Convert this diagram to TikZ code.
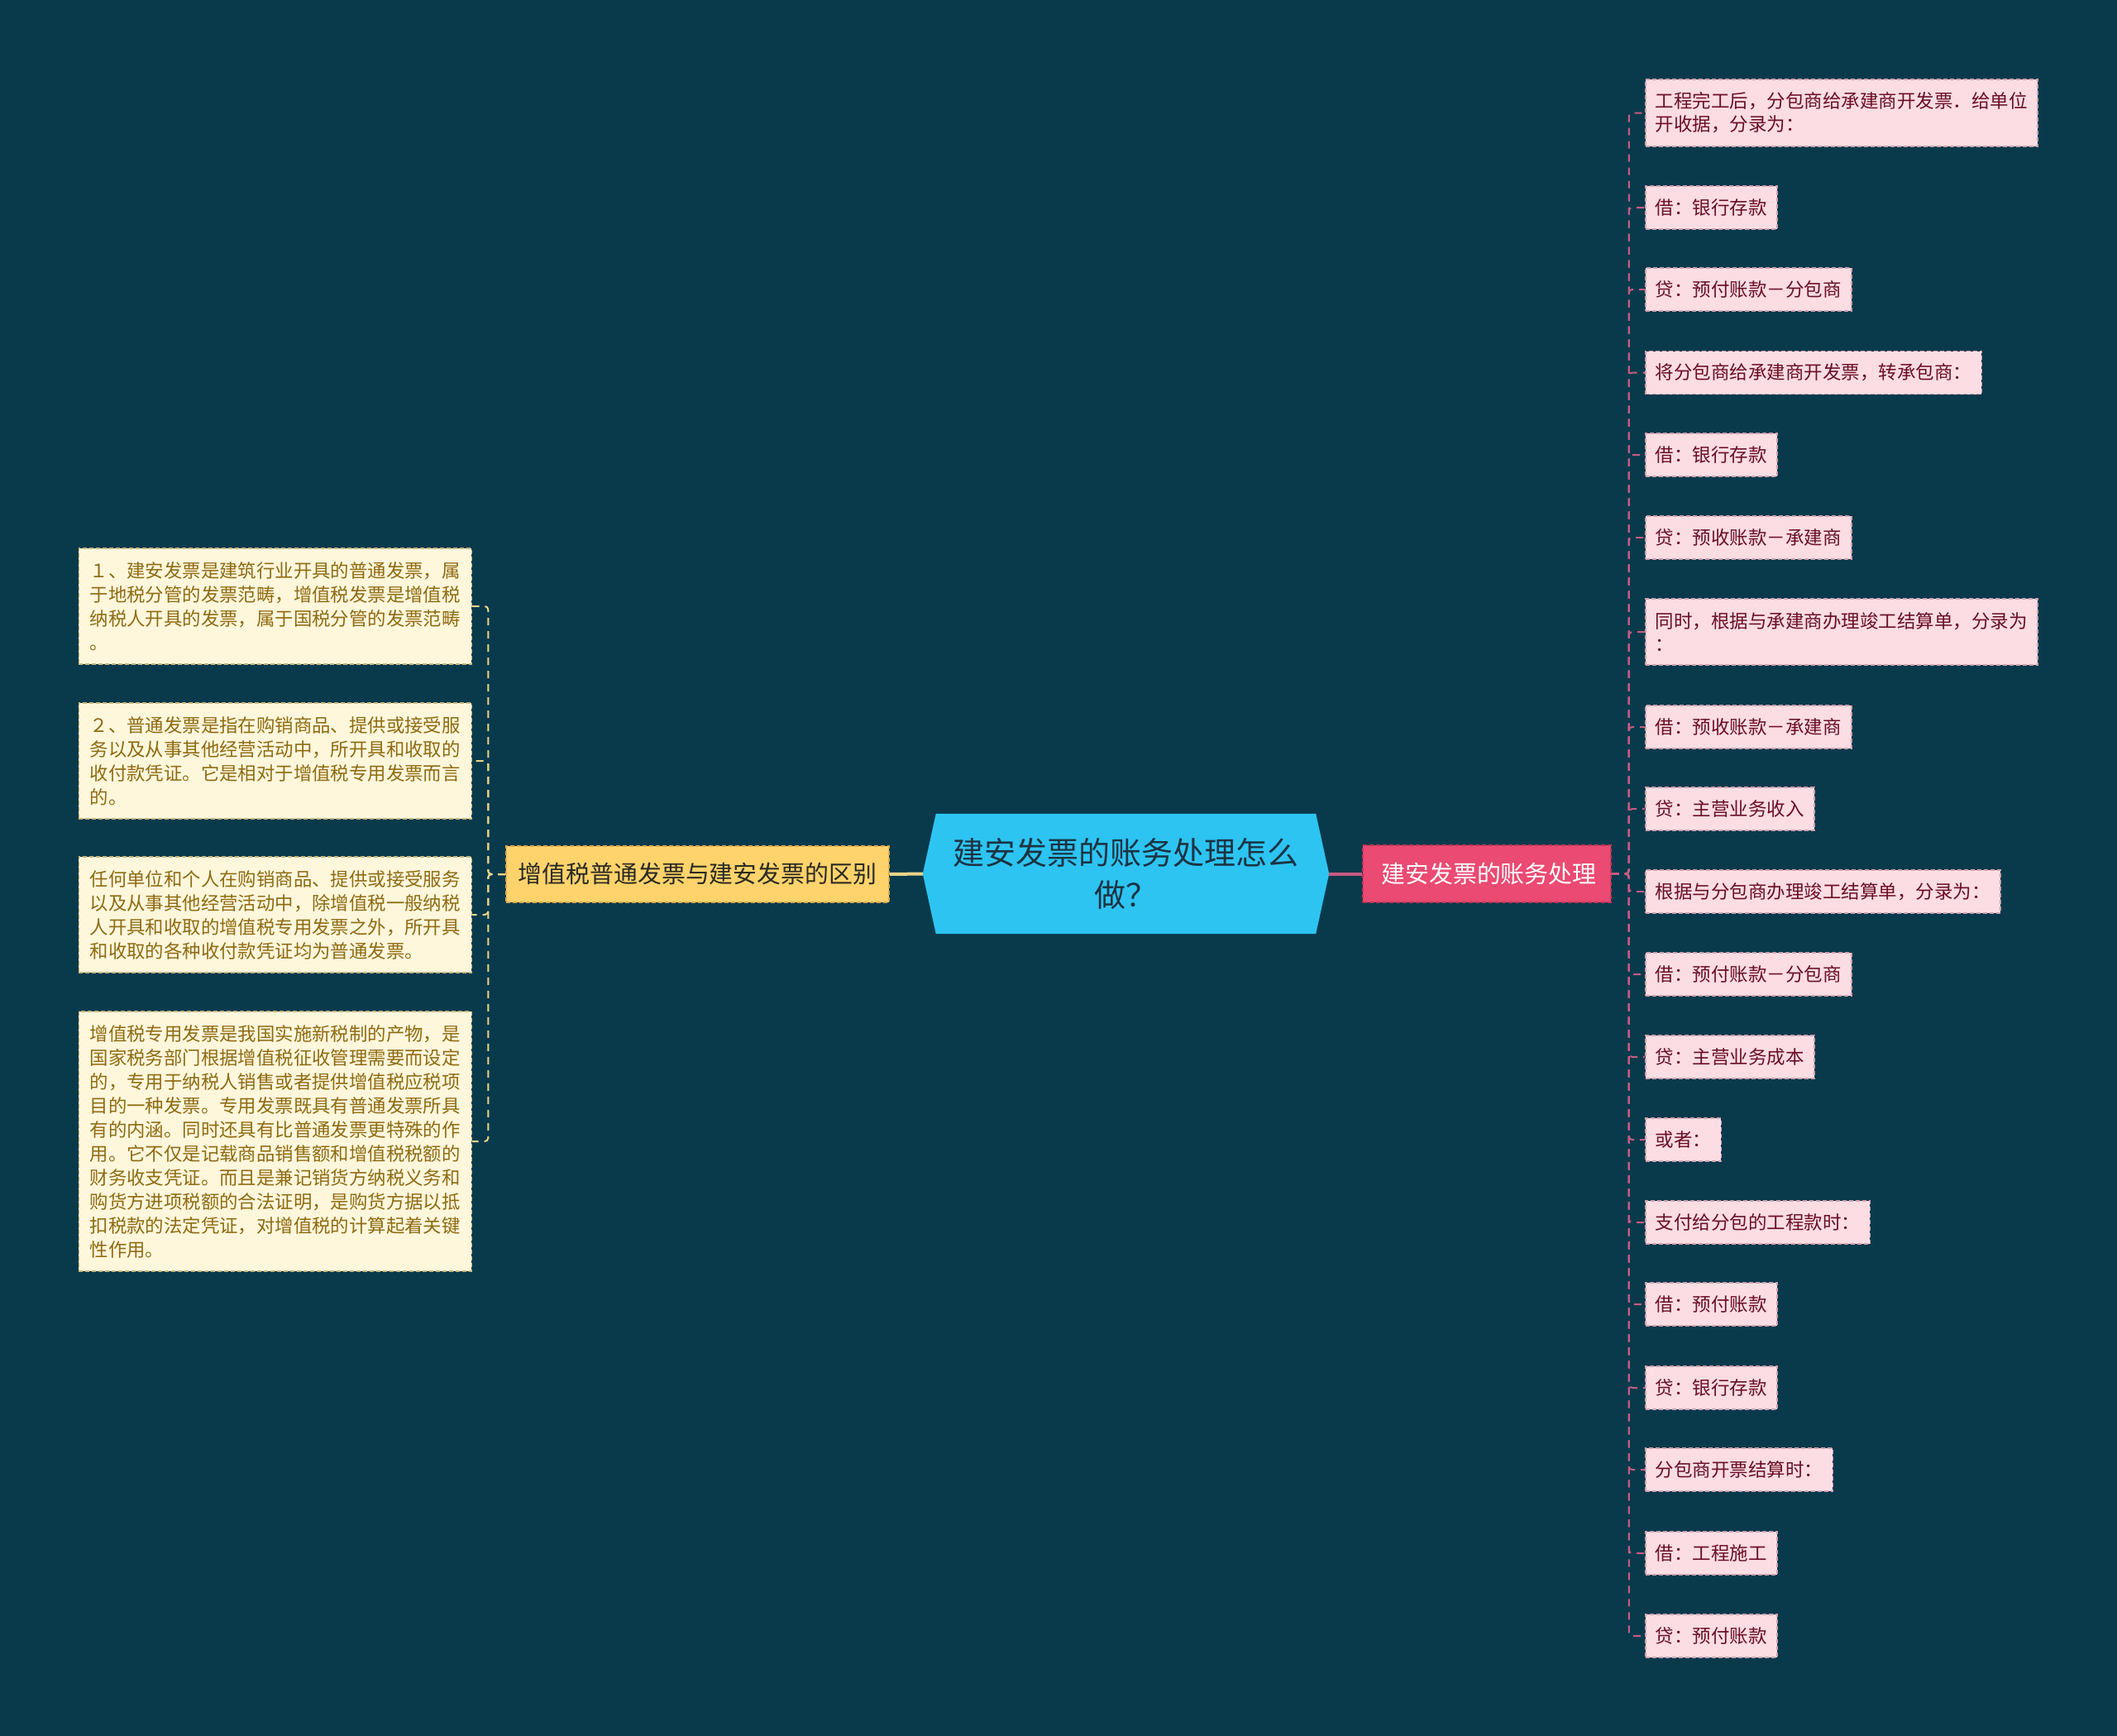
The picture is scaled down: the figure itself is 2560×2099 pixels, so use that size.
\documentclass[tikz,border=0pt]{standalone}
\usepackage{fontspec}
\setmainfont{Noto Sans CJK SC}
\usetikzlibrary{backgrounds}
\definecolor{bgc}{HTML}{093A4C}
\definecolor{rootfill}{HTML}{2DC4F2}
\definecolor{roottext}{HTML}{1B3342}
\definecolor{yfill}{HTML}{FFD36B}
\definecolor{yborder}{HTML}{D9A94A}
\definecolor{ytext}{HTML}{2A2A22}
\definecolor{pkfill}{HTML}{EB4A72}
\definecolor{pkborder}{HTML}{C23457}
\definecolor{lfill}{HTML}{FFF7DC}
\definecolor{lborder}{HTML}{C9B57C}
\definecolor{ltext}{HTML}{8E6B12}
\definecolor{rfill}{HTML}{FCDDE3}
\definecolor{rborder}{HTML}{CFA1AE}
\definecolor{rtext}{HTML}{6A0E26}
\definecolor{pconn}{HTML}{C75B82}
\definecolor{yconn}{HTML}{EBD48A}
\begin{document}
\begin{tikzpicture}[x=1pt,y=-1pt,
  rootbox/.style={minimum width=491pt, minimum height=145pt, inner sep=0pt, align=center, text=roottext,
    font=\fontsize{38pt}{51pt}\selectfont},
  ybranch/.style={fill=yfill, draw=yborder, dash pattern=on 5pt off 3pt, line width=1.5pt, text=ytext,
    minimum width=463pt, minimum height=68pt, inner sep=0pt, font=\fontsize{28.9pt}{34pt}\selectfont},
  pbranch/.style={fill=pkfill, draw=pkborder, dash pattern=on 5pt off 3pt, line width=1.5pt, text=white,
    minimum width=300pt, minimum height=69pt, inner sep=0pt, font=\fontsize{28.9pt}{34pt}\selectfont},
  lleaf/.style={anchor=east, fill=lfill, draw=lborder, dash pattern=on 5pt off 3pt, line width=1.5pt, text=ltext,
    minimum width=475pt, inner xsep=12pt, inner ysep=0pt, align=left,
    font=\fontsize{22.4pt}{29pt}\selectfont},
  rleaf/.style={anchor=west, fill=rfill, draw=rborder, dash pattern=on 5pt off 3pt, line width=1.5pt, text=rtext,
    minimum height=52pt, inner xsep=12pt, inner ysep=0pt, align=left,
    font=\fontsize{22.5pt}{28pt}\selectfont},
  lconn/.style={draw=yconn, line width=2pt, dash pattern=on 9pt off 7pt, rounded corners=4pt},
  rconn/.style={draw=pconn, line width=2pt, dash pattern=on 9pt off 7pt, rounded corners=4pt}
]
\begin{pgfonlayer}{background}
\fill[bgc] (0,0) rectangle (2560,2099);
\end{pgfonlayer}
\useasboundingbox (0,0) rectangle (2560,2099);

% root
\node[rootbox] (root) at (1361.5,1056.5) {建安发票的账务处理怎么\\做？};
\begin{pgfonlayer}{background}
\fill[rootfill] ([xshift=16pt]root.north west) -- ([xshift=-16pt]root.north east) -- (root.east)
  -- ([xshift=-16pt]root.south east) -- ([xshift=16pt]root.south west) -- (root.west) -- cycle;
\end{pgfonlayer}

% branches
\node[ybranch] (Y) at (843.5,1057) {增值税普通发票与建安发票的区别};
\node[pbranch] (R) at (1798,1056.5) {\hspace*{5pt}建安发票的账务处理};

\draw[yconn, line width=4pt] (root.west) -- (Y.east);
\draw[pconn, line width=4pt] (root.east) -- (R.west);

% left leaves
\node[lleaf, minimum height=140pt] (L1) at (571,733) {１、建安发票是建筑行业开具的普通发票，属\\于地税分管的发票范畴，增值税发票是增值税\\纳税人开具的发票，属于国税分管的发票范畴\\。};
\node[lleaf, minimum height=140pt] (L2) at (571,920) {２、普通发票是指在购销商品、提供或接受服\\务以及从事其他经营活动中，所开具和收取的\\收付款凭证。它是相对于增值税专用发票而言\\的。};
\node[lleaf, minimum height=140pt] (L3) at (571,1106) {任何单位和个人在购销商品、提供或接受服务\\以及从事其他经营活动中，除增值税一般纳税\\人开具和收取的增值税专用发票之外，所开具\\和收取的各种收付款凭证均为普通发票。};
\node[lleaf, minimum height=314pt] (L4) at (571,1380) {增值税专用发票是我国实施新税制的产物，是\\国家税务部门根据增值税征收管理需要而设定\\的，专用于纳税人销售或者提供增值税应税项\\目的一种发票。专用发票既具有普通发票所具\\有的内涵。同时还具有比普通发票更特殊的作\\用。它不仅是记载商品销售额和增值税税额的\\财务收支凭证。而且是兼记销货方纳税义务和\\购货方进项税额的合法证明，是购货方据以抵\\扣税款的法定凭证，对增值税的计算起着关键\\性作用。};

\foreach \n in {L1,L2,L3,L4}
  \draw[lconn] (Y.west) -- ++(-21,0) |- (\n.east);

% right leaves
\node[rleaf, minimum height=81pt] (r1) at (1989,136.5) {工程完工后，分包商给承建商开发票．给单位\\开收据，分录为：};
\node[rleaf] (r2) at (1989,251) {借：银行存款};
\node[rleaf] (r3) at (1989,350) {贷：预付账款－分包商};
\node[rleaf] (r4) at (1989,450.5) {将分包商给承建商开发票，转承包商：};
\node[rleaf] (r5) at (1989,550) {借：银行存款};
\node[rleaf] (r6) at (1989,650) {贷：预收账款－承建商};
\node[rleaf, minimum height=80pt] (r7) at (1989,764) {同时，根据与承建商办理竣工结算单，分录为\\：};
\node[rleaf] (r8) at (1989,879) {借：预收账款－承建商};
\node[rleaf] (r9) at (1989,978) {贷：主营业务收入};
\node[rleaf] (r10) at (1989,1078) {根据与分包商办理竣工结算单，分录为：};
\node[rleaf] (r11) at (1989,1178) {借：预付账款－分包商};
\node[rleaf] (r12) at (1989,1278) {贷：主营业务成本};
\node[rleaf] (r13) at (1989,1378) {或者：};
\node[rleaf] (r14) at (1989,1478) {支付给分包的工程款时：};
\node[rleaf] (r15) at (1989,1577) {借：预付账款};
\node[rleaf] (r16) at (1989,1678) {贷：银行存款};
\node[rleaf] (r17) at (1989,1777) {分包商开票结算时：};
\node[rleaf] (r18) at (1989,1878) {借：工程施工};
\node[rleaf] (r19) at (1989,1978) {贷：预付账款};

\foreach \n in {r1,r2,r3,r4,r5,r6,r7,r8,r9,r10,r11,r12,r13,r14,r15,r16,r17,r18,r19}
  \draw[rconn] (R.east) -- ++(21,0) |- (\n.west);
\end{tikzpicture}
\end{document}
